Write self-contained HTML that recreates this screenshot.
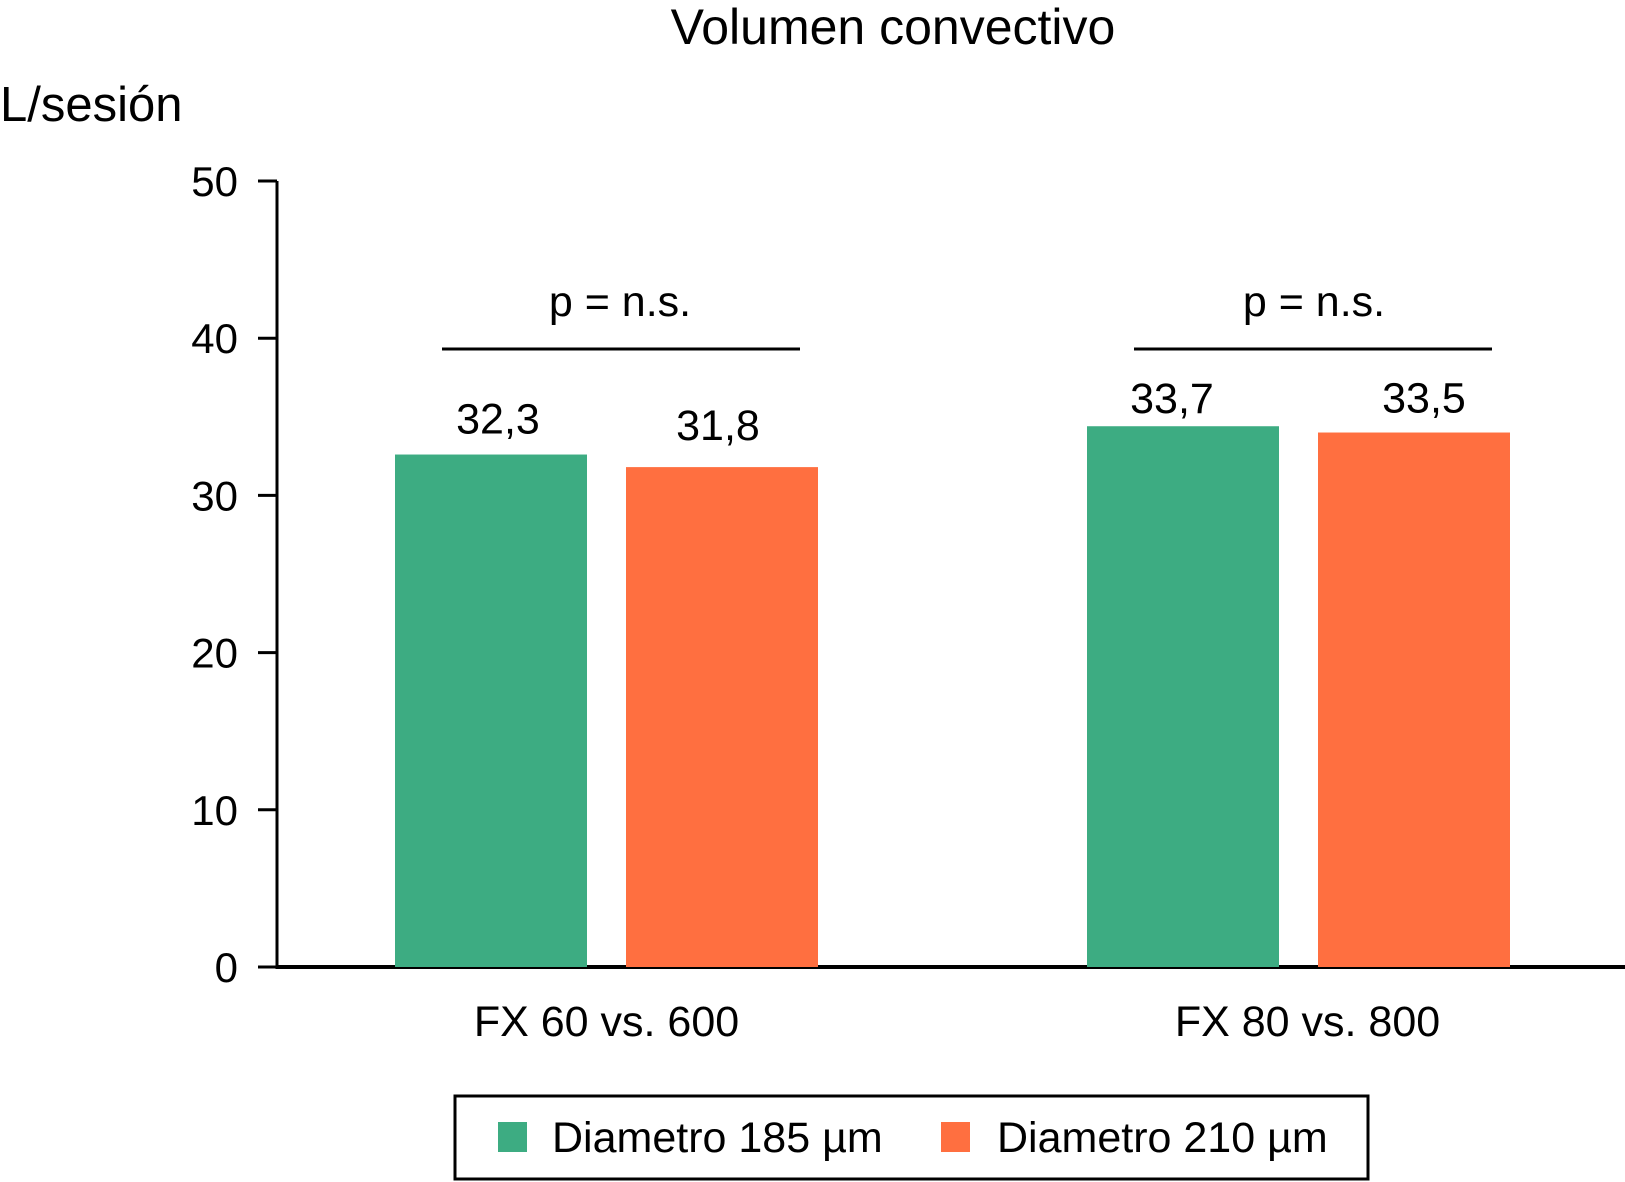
<!DOCTYPE html>
<html><head><meta charset="utf-8"><style>
html,body{margin:0;padding:0;background:#fff;}
svg{display:block;font-family:"Liberation Sans",Arial,sans-serif;}
</style></head><body>
<svg id="chart" width="1625" height="1182" viewBox="0 0 1625 1182">
<text x="893" y="44" font-size="50" text-anchor="middle">Volumen convectivo</text>
<text x="0" y="121" font-size="49">L/sesión</text>
<g id="axes"></g>
<g id="bars"></g>
<rect x="455" y="1096" width="913" height="83" fill="none" stroke="#000" stroke-width="3"/>
<rect x="498" y="1122" width="29" height="30" fill="#3dac82"/>
<text x="552" y="1152" font-size="43">Diametro 185 µm</text>
<rect x="941" y="1122" width="29" height="30" fill="#ff6f40"/>
<text x="997" y="1152" font-size="43">Diametro 210 µm</text>
</svg>
<script>
const categories = ["FX 60 vs. 600", "FX 80 vs. 800"];
const series185 = [32.6, 34.4];
const series210 = [31.8, 34.0];
const labels185 = ["32,3", "33,7"];
const labels210 = ["31,8", "33,5"];
const pLabels = ["p = n.s.", "p = n.s."];
const yTicks = [0, 10, 20, 30, 40, 50];

const NS = "http://www.w3.org/2000/svg";
const X0 = 277, Y0 = 967, YTOP = 181, YMAX = 50;
function yScale(v){ return Y0 - v * (Y0 - YTOP) / YMAX; }
const groupLeft = [395, 1087];
const barW = 192, gap = 39;
// label placement offsets (styling only)
const labDx = [[7, -4], [-11, 10]];
const labDy = [[-21, -27], [-13, -20]];
const catDx = [0, 9];
const pDx = [0, 2];
function mk(tag, attrs, parent){ const e = document.createElementNS(NS, tag); for (const k in attrs) e.setAttribute(k, attrs[k]); parent.appendChild(e); return e; }
const axes = document.getElementById('axes');
const bars = document.getElementById('bars');

let ax = mk('line', {x1: X0, y1: YTOP, x2: X0, y2: Y0 + 1.5, stroke: '#000', 'stroke-width': 3}, axes);


let xa = mk('line', {x1: X0 - 1.5, y1: Y0, x2: 1625, y2: Y0, stroke: '#000', 'stroke-width': 4}, axes);


yTicks.forEach(t => {
  const y = yScale(t);
  const tk = mk('line', {x1: X0 - 19, y1: y, x2: X0, y2: y, stroke: '#000', 'stroke-width': 3}, axes);
  
  
  const tl = mk('text', {x: 238, y: y + 15, 'font-size': 42, 'text-anchor': 'end'}, axes);
  tl.textContent = t;
  
  
});

categories.forEach((c, i) => {
  const l = groupLeft[i];
  const vals = [series185[i], series210[i]];
  const labs = [labels185[i], labels210[i]];
  const cols = ['#3dac82', '#ff6f40'];
  vals.forEach((v, j) => {
    const x = l + j * (barW + gap);
    const top = yScale(v);
    const r = mk('rect', {x: x, y: top, width: barW, height: Y0 - top, fill: cols[j]}, bars);
    
    
    const t = mk('text', {x: x + barW / 2 + labDx[i][j], y: top + labDy[i][j], 'font-size': 43, 'text-anchor': 'middle'}, bars);
    t.textContent = labs[j];
    
    
  });
  const gw = 2 * barW + gap;
  const cx = l + gw / 2;
  const pl = mk('line', {x1: l + 47, y1: 349, x2: l + 405, y2: 349, stroke: '#000', 'stroke-width': 3}, bars);
  
  
  const pt = mk('text', {x: l + 225 + pDx[i], y: 316, 'font-size': 43, 'text-anchor': 'middle'}, bars);
  pt.textContent = pLabels[i];
  
  
  const ct = mk('text', {x: cx + catDx[i], y: 1036, 'font-size': 43, 'text-anchor': 'middle'}, bars);
  ct.textContent = c;
  
  
});
</script>
</body></html>
